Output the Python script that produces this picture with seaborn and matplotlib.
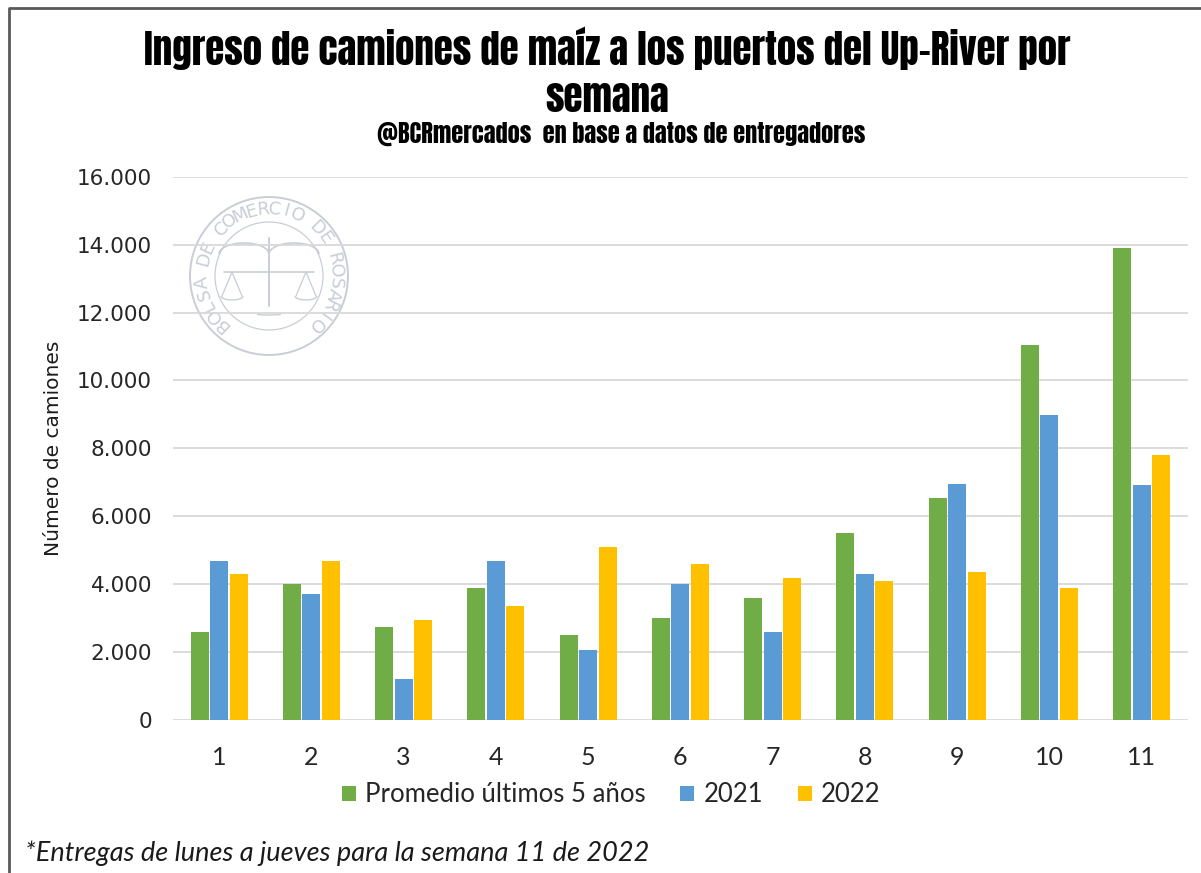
import numpy as np
import pandas as pd
import seaborn as sns
import matplotlib.pyplot as plt
from matplotlib.patches import Circle, Arc

semanas = ['1', '2', '3', '4', '5', '6', '7', '8', '9', '10', '11']
promedio = [2600, 4000, 2750, 3900, 2500, 3000, 3600, 5500, 6550, 11050, 13900]
anio_2021 = [4680, 3700, 1220, 4680, 2070, 4000, 2600, 4300, 6960, 8980, 6910]
anio_2022 = [4300, 4680, 2930, 3350, 5080, 4590, 4180, 4100, 4360, 3900, 7800]
series = ['Promedio últimos 5 años', '2021', '2022']
colores = ['#70AD47', '#5B9BD5', '#FFC000']
y_ticks = [0, 2000, 4000, 6000, 8000, 10000, 12000, 14000, 16000]

df = pd.DataFrame({
    'semana': semanas * 3,
    'serie': [series[0]] * 11 + [series[1]] * 11 + [series[2]] * 11,
    'valor': promedio + anio_2021 + anio_2022,
})

sns.set_theme(style='white')
plt.rcParams['font.family'] = ['DejaVu Sans']

fig = plt.figure(figsize=(12.01, 8.73), dpi=100)
ax = fig.add_axes([0.144, 0.1753, 0.845, 0.6223])
ax.set_facecolor('none')

sns.barplot(data=df, x='semana', y='valor', hue='serie', hue_order=series,
            palette=colores, width=0.635, gap=0.08, saturation=1,
            edgecolor='none', ax=ax, legend=True)

ax.set_ylim(0, 16000)
ax.set_xlim(-0.5, 10.5)
ax.set_yticks(y_ticks)
ax.set_yticklabels([f'{v:,}'.replace(',', '.') for v in y_ticks],
                   fontsize=15.5, color='#262626')
ax.tick_params(axis='y', length=0, pad=15)
ax.tick_params(axis='x', length=0, pad=19)
for lbl in ax.get_xticklabels():
    lbl.set_fontfamily(['Lato', 'DejaVu Sans'])
    lbl.set_fontsize(18)
    lbl.set_color('#262626')
ax.yaxis.grid(True, color='#d9d9d9', linewidth=1.3)
ax.set_axisbelow(True)
for s in ax.spines.values():
    s.set_visible(False)
ax.set_xlabel('')
ax.set_ylabel('Número de camiones', fontsize=14.5, color='#1a1a1a', labelpad=10)

handles, labels = ax.get_legend_handles_labels()
ax.legend_.remove()
fig.legend(handles, labels, loc='center', bbox_to_anchor=(611 / 1201, 1 - 795 / 873),
           ncol=3, frameon=False, handlelength=0.55, handleheight=0.55,
           handletextpad=0.35, columnspacing=1.35,
           prop={'family': ['Lato', 'DejaVu Sans'], 'size': 18.5})

titulo_font = ['Anton', 'Oswald', 'Fjalla One', 'DejaVu Sans']
fig.text(607 / 1201, 1 - 48 / 873,
         'Ingreso de camiones de maíz a los puertos del Up-River por',
         ha='center', va='center', fontsize=28, family=titulo_font, color='black')
fig.text(607 / 1201, 1 - 97 / 873, 'semana',
         ha='center', va='center', fontsize=28, family=titulo_font, color='black')
fig.text(621 / 1201, 1 - 134 / 873, '@BCRmercados  en base a datos de entregadores',
         ha='center', va='center', fontsize=17.5, family=titulo_font, color='black')
fig.text(25 / 1201, 1 - 853 / 873, '*Entregas de lunes a jueves para la semana 11 de 2022',
         ha='left', va='center', fontsize=19.5, style='italic',
         family=['Lato', 'DejaVu Sans'], color='#1a1a1a')

# overlay in pixel coordinates: frame and watermark seal
ov = fig.add_axes([0, 0, 1, 1], zorder=-1)
ov.set_xlim(0, 1201)
ov.set_ylim(0, 873)
ov.axis('off')
ov.plot([9, 9, 1201], [0, 873 - 8, 873 - 8], color='#595959', linewidth=2)

cx, cy, r = 269, 873 - 276, 79
sello = '#c9cdd6'
ov.add_patch(Circle((cx, cy), r, fill=False, edgecolor=sello, linewidth=1.4))
ov.add_patch(Circle((cx, cy), 54, fill=False, edgecolor=sello, linewidth=0.9))
ov.add_patch(Arc((cx, cy - 34), 50, 10, theta1=200, theta2=340, color=sello, linewidth=1))
texto_sello = 'BOLSA DE COMERCIO DE ROSARIO'
angulos = np.linspace(226, -46, len(texto_sello))
for ch, a in zip(texto_sello, angulos):
    t = np.radians(a)
    ov.text(cx + 67 * np.cos(t), cy + 67 * np.sin(t), ch, rotation=a - 90,
            ha='center', va='center', fontsize=13, color=sello)
# emblem: wings, staff and balance
ov.add_patch(Arc((cx - 25, cy + 22), 50, 22, theta1=0, theta2=180, color=sello, linewidth=1.2))
ov.add_patch(Arc((cx + 25, cy + 22), 50, 22, theta1=0, theta2=180, color=sello, linewidth=1.2))
ov.plot([cx - 45, cx + 45], [cy + 4, cy + 4], color=sello, linewidth=1.2)
ov.plot([cx, cx], [cy + 38, cy - 30], color=sello, linewidth=1.4)
for sx in (-1, 1):
    px = cx + sx * 37
    ov.plot([px - 10, px, px + 10], [cy - 20, cy + 4, cy - 20], color=sello, linewidth=0.9)
    ov.add_patch(Arc((px, cy - 20), 22, 8, theta1=180, theta2=360, color=sello, linewidth=1))

fig.savefig('out.png', dpi=100)
